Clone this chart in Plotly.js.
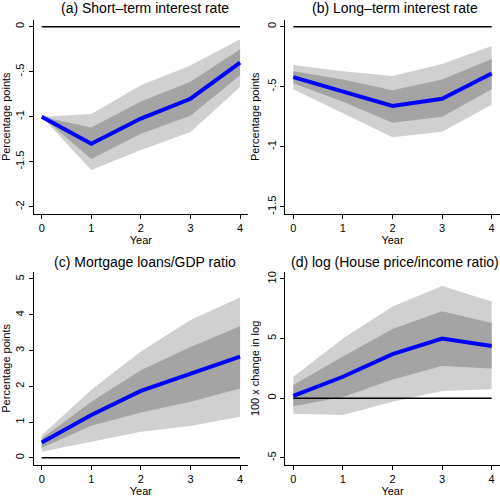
<!DOCTYPE html>
<html>
<head>
<meta charset="utf-8">
<script src="https://cdn.plot.ly/plotly-3.0.1.min.js"></script>
<style>
  html, body { margin: 0; padding: 0; background: #fff; }
  #chart { width: 500px; height: 500px; }
</style>
</head>
<body>
<div id="chart"></div>
<script>
// x values shared by all four panels
const years = [0, 1, 2, 3, 4];

// (a) short-term interest rate
const shortRate = [-1.0, -1.3, -1.02, -0.80, -0.40];
const shortInnerHi = [-1.0, -1.12, -0.83, -0.61, -0.25];
const shortInnerLo = [-1.0, -1.47, -1.19, -0.99, -0.54];
const shortOuterHi = [-1.0, -0.97, -0.65, -0.43, -0.14];
const shortOuterLo = [-1.0, -1.59, -1.37, -1.17, -0.67];

// (b) long-term interest rate
const longRate = [-0.42, -0.54, -0.66, -0.60, -0.39];
const longInnerHi = [-0.37, -0.44, -0.53, -0.44, -0.27];
const longInnerLo = [-0.47, -0.625, -0.80, -0.75, -0.52];
const longOuterHi = [-0.32, -0.37, -0.41, -0.31, -0.16];
const longOuterLo = [-0.52, -0.72, -0.92, -0.875, -0.65];

// (c) mortgage loans / GDP
const mortgage = [0.43, 1.2, 1.87, 2.36, 2.83];
const mortInnerHi = [0.54, 1.57, 2.45, 3.1, 3.68];
const mortInnerLo = [0.28, 0.9, 1.27, 1.57, 1.94];
const mortOuterHi = [0.63, 1.9, 2.97, 3.85, 4.48];
const mortOuterLo = [0.17, 0.45, 0.73, 0.89, 1.15];

// (d) log house price / income
const housePrice = [0.2, 1.8, 3.7, 5.0, 4.37];
const houseInnerHi = [1.1, 3.5, 5.8, 7.3, 6.3];
const houseInnerLo = [-0.67, 0.1, 1.57, 2.7, 2.5];
const houseOuterHi = [1.8, 5.0, 7.7, 9.4, 8.1];
const houseOuterLo = [-1.3, -1.4, -0.3, 0.6, 0.75];

const zeroX = [0, 4];
const zeroY = [0, 0];

const panelTitles = [
    "(a) Short\u2013term interest rate",
    "(b) Long\u2013term interest rate",
    "(c) Mortgage loans/GDP ratio",
    "(d) log (House price/income ratio)"
];

const tickFontFamily = "Liberation Sans, Arial, Helvetica, sans-serif";
const lightGrey = "#d0d0d0";
const darkGrey = "#a4a4a4";

function band(hi, lo, colour, axes) {
    return {
        x: years.concat(years.slice().reverse()),
        y: hi.concat(lo.slice().reverse()),
        fill: "toself",
        fillcolor: colour,
        line: { width: 0 },
        mode: "lines",
        type: "scatter",
        hoverinfo: "skip",
        xaxis: axes[0],
        yaxis: axes[1],
        showlegend: false
    };
}

function panel(mean, innerHi, innerLo, outerHi, outerLo, axes) {
    return [
        band(outerHi, outerLo, lightGrey, axes),
        band(innerHi, innerLo, darkGrey, axes),
        {
            x: zeroX, y: zeroY, mode: "lines", type: "scatter",
            line: { color: "#000", width: 1.5 },
            xaxis: axes[0], yaxis: axes[1], showlegend: false
        },
        {
            x: years, y: mean, mode: "lines", type: "scatter",
            line: { color: "#0000ff", width: 4 },
            xaxis: axes[0], yaxis: axes[1], showlegend: false
        }
    ];
}

const data = [].concat(
    panel(shortRate, shortInnerHi, shortInnerLo, shortOuterHi, shortOuterLo, ["x", "y"]),
    panel(longRate, longInnerHi, longInnerLo, longOuterHi, longOuterLo, ["x2", "y2"]),
    panel(mortgage, mortInnerHi, mortInnerLo, mortOuterHi, mortOuterLo, ["x3", "y3"]),
    panel(housePrice, houseInnerHi, houseInnerLo, houseOuterHi, houseOuterLo, ["x4", "y4"])
);

// pixel boxes, turned into paper fractions
const leftCol = [33.8 / 500, 248 / 500];
const rightCol = [285.4 / 500, 499.6 / 500];
const topRow = [1 - 214 / 500, 1 - 19.5 / 500];
const bottomRow = [1 - 465 / 500, 1 - 271.8 / 500];

function xAxis(domain, anchor) {
    return {
        domain: domain,
        anchor: anchor,
        range: [-0.16, 4.16],
        tickvals: years,
        ticks: "outside",
        ticklen: 4,
        tickcolor: "#000",
        showline: true,
        linecolor: "#000",
        linewidth: 1,
        showgrid: false,
        zeroline: false,
        tickfont: { family: tickFontFamily, size: 11, color: "#000" },
        title: { text: "Year", font: { family: tickFontFamily, size: 11, color: "#000" }, standoff: 2 },
        fixedrange: true
    };
}

function yAxis(domain, anchor, range, vals, labels, titleText) {
    return {
        domain: domain,
        anchor: anchor,
        range: range,
        tickvals: vals,
        ticktext: labels,
        tickangle: -90,
        ticks: "outside",
        ticklen: 4,
        tickcolor: "#000",
        showline: true,
        linecolor: "#000",
        linewidth: 1,
        showgrid: false,
        zeroline: false,
        tickfont: { family: tickFontFamily, size: 11, color: "#000" },
        title: { text: titleText, font: { family: tickFontFamily, size: 11, color: "#000" }, standoff: 4 },
        fixedrange: true
    };
}

const layout = {
    width: 500,
    height: 500,
    margin: { l: 0, r: 0, t: 0, b: 0 },
    paper_bgcolor: "#fff",
    plot_bgcolor: "#fff",
    showlegend: false,
    font: { family: tickFontFamily, color: "#000" },
    xaxis: xAxis(leftCol, "y"),
    yaxis: yAxis(topRow, "x", [-2.08, 0.08], [0, -0.5, -1, -1.5, -2], ["0", "-.5", "-1", "-1.5", "-2"], "Percentage points"),
    xaxis2: xAxis(rightCol, "y2"),
    yaxis2: yAxis(topRow, "x2", [-1.56, 0.06], [0, -0.5, -1, -1.5], ["0", "-.5", "-1", "-1.5"], "Percentage points"),
    xaxis3: xAxis(leftCol, "y3"),
    yaxis3: yAxis(bottomRow, "x3", [-0.2, 5.2], [0, 1, 2, 3, 4, 5], ["0", "1", "2", "3", "4", "5"], "Percentage points"),
    xaxis4: xAxis(rightCol, "y4"),
    yaxis4: yAxis(bottomRow, "x4", [-5.6, 10.6], [-5, 0, 5, 10], ["-5", "0", "5", "10"], "100 x change in log"),
    annotations: [
        { text: panelTitles[0], x: 145 / 500, y: 1 - 8 / 500 },
        { text: panelTitles[1], x: 395 / 500, y: 1 - 8 / 500 },
        { text: panelTitles[2], x: 145 / 500, y: 1 - 262 / 500 },
        { text: panelTitles[3], x: 395 / 500, y: 1 - 262 / 500 }
    ].map(a => Object.assign(a, {
        xref: "paper", yref: "paper",
        xanchor: "center", yanchor: "middle",
        showarrow: false,
        font: { family: tickFontFamily, size: 14, color: "#000" }
    }))
};

Plotly.newPlot("chart", data, layout, { staticPlot: true, displayModeBar: false });
</script>
</body>
</html>
